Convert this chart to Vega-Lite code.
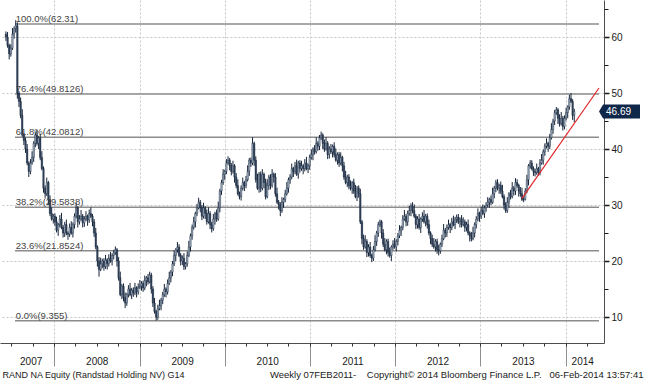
{
"$schema":"https://vega.github.io/schema/vega-lite/v6.json",
"width":604,"height":343,
"autosize":{"type":"none"},
"padding":{"left":0,"top":0,"right":41,"bottom":37},
"background":"#ffffff",
"config":{"view":{"stroke":null},"font":"Liberation Sans","axis":{"labelFont":"Liberation Sans","titleFont":"Liberation Sans","labelColor":"#1a1a1a","titleColor":"#1a1a1a","titleFontWeight":"normal"}},
"datasets":{
"fib":[{"lab":"100.0%(62.31)","v":62.31},{"lab":"76.4%(49.8126)","v":49.8126},{"lab":"61.8%(42.0812)","v":42.0812},{"lab":"38.2%(29.5838)","v":29.5838},{"lab":"23.6%(21.8524)","v":21.8524},{"lab":"0.0%(9.355)","v":9.355}],
"trend":[{"t":"2013-06-28","v":31.2},{"t":"2014-05-24","v":50.9}],
"last":[{"v":46.69}],
"px":[
{"t":"2007-06-08","o":60.5,"h":61.0,"l":59.3,"c":60.0},
{"t":"2007-06-15","o":60.0,"h":60.9,"l":58.1,"c":58.5},
{"t":"2007-06-22","o":58.5,"h":58.8,"l":56.0,"c":57.0},
{"t":"2007-06-29","o":57.0,"h":58.7,"l":56.5,"c":58.0},
{"t":"2007-07-06","o":58.0,"h":61.6,"l":57.7,"c":60.5},
{"t":"2007-07-13","o":60.5,"h":61.9,"l":59.7,"c":61.5},
{"t":"2007-07-20","o":61.5,"h":63.0,"l":60.8,"c":62.0},
{"t":"2007-07-27","o":62.0,"h":62.6,"l":49.0,"c":50.0},
{"t":"2007-08-03","o":50.0,"h":50.3,"l":47.5,"c":48.5},
{"t":"2007-08-10","o":48.5,"h":49.2,"l":45.5,"c":46.0},
{"t":"2007-08-17","o":46.0,"h":47.1,"l":42.2,"c":42.5},
{"t":"2007-08-24","o":42.5,"h":42.9,"l":40.7,"c":41.5},
{"t":"2007-08-31","o":41.5,"h":42.0,"l":39.3,"c":40.0},
{"t":"2007-09-07","o":40.0,"h":40.9,"l":37.1,"c":37.5},
{"t":"2007-09-14","o":37.5,"h":37.8,"l":35.0,"c":36.0},
{"t":"2007-09-21","o":36.0,"h":38.2,"l":35.5,"c":37.5},
{"t":"2007-09-28","o":37.5,"h":39.6,"l":37.2,"c":38.5},
{"t":"2007-10-05","o":38.5,"h":41.4,"l":37.7,"c":41.0},
{"t":"2007-10-12","o":41.0,"h":43.0,"l":40.3,"c":42.5},
{"t":"2007-10-19","o":42.5,"h":43.4,"l":40.6,"c":41.0},
{"t":"2007-10-26","o":41.0,"h":42.3,"l":40.0,"c":42.0},
{"t":"2007-11-02","o":42.0,"h":42.7,"l":38.0,"c":38.5},
{"t":"2007-11-09","o":38.5,"h":39.6,"l":36.2,"c":36.5},
{"t":"2007-11-16","o":36.5,"h":36.9,"l":32.2,"c":33.0},
{"t":"2007-11-23","o":33.0,"h":33.5,"l":31.3,"c":32.0},
{"t":"2007-11-30","o":32.0,"h":34.9,"l":31.6,"c":34.0},
{"t":"2007-12-07","o":34.0,"h":34.3,"l":30.0,"c":31.0},
{"t":"2007-12-14","o":31.0,"h":31.7,"l":28.0,"c":28.5},
{"t":"2007-12-21","o":28.5,"h":29.6,"l":27.2,"c":27.5},
{"t":"2007-12-28","o":27.5,"h":28.4,"l":26.7,"c":28.0},
{"t":"2008-01-04","o":28,"h":28.5,"l":26.3,"c":27},
{"t":"2008-01-11","o":27,"h":27.9,"l":25.1,"c":25.5},
{"t":"2008-01-18","o":25.5,"h":26.8,"l":24.5,"c":26.5},
{"t":"2008-01-25","o":26.5,"h":28.2,"l":26,"c":27.5},
{"t":"2008-02-01","o":27.5,"h":28.6,"l":25.7,"c":26},
{"t":"2008-02-08","o":26,"h":26.4,"l":24.2,"c":25},
{"t":"2008-02-15","o":25,"h":27,"l":24.3,"c":26.5},
{"t":"2008-02-22","o":26.5,"h":27.4,"l":24.6,"c":25},
{"t":"2008-02-29","o":25,"h":25.3,"l":23.8,"c":24.8},
{"t":"2008-03-07","o":24.8,"h":26.7,"l":24.3,"c":26},
{"t":"2008-03-14","o":26,"h":27.1,"l":24.7,"c":25},
{"t":"2008-03-21","o":25,"h":26.9,"l":24.2,"c":26.5},
{"t":"2008-03-28","o":26.5,"h":28.5,"l":25.8,"c":28},
{"t":"2008-04-04","o":28,"h":30.4,"l":27.6,"c":29.5},
{"t":"2008-04-11","o":29.5,"h":29.8,"l":26,"c":27},
{"t":"2008-04-18","o":27,"h":28.2,"l":26.5,"c":27.5},
{"t":"2008-04-25","o":27.5,"h":29.1,"l":27.2,"c":28},
{"t":"2008-05-02","o":28,"h":28.4,"l":26,"c":26.8},
{"t":"2008-05-09","o":26.8,"h":28,"l":26.1,"c":27.5},
{"t":"2008-05-16","o":27.5,"h":28.9,"l":27.1,"c":28},
{"t":"2008-05-23","o":28,"h":28.3,"l":26.3,"c":27.3},
{"t":"2008-05-30","o":27.3,"h":29.2,"l":26.8,"c":28.5},
{"t":"2008-06-06","o":28.5,"h":29.6,"l":27.7,"c":28},
{"t":"2008-06-13","o":28,"h":28.4,"l":26.2,"c":27},
{"t":"2008-06-20","o":27,"h":27.5,"l":24.3,"c":25},
{"t":"2008-06-27","o":25,"h":25.9,"l":22.1,"c":22.5},
{"t":"2008-07-04","o":22.5,"h":22.8,"l":19,"c":20},
{"t":"2008-07-11","o":20,"h":20.7,"l":17.2,"c":18.5},
{"t":"2008-07-18","o":18.5,"h":20.6,"l":18.2,"c":19.5},
{"t":"2008-07-25","o":19.5,"h":20.4,"l":18.7,"c":20},
{"t":"2008-08-01","o":20,"h":20.5,"l":18.3,"c":19},
{"t":"2008-08-08","o":19,"h":21.1,"l":18.6,"c":20.2},
{"t":"2008-08-15","o":20.2,"h":20.5,"l":18.5,"c":19.5},
{"t":"2008-08-22","o":19.5,"h":21.2,"l":19,"c":20.5},
{"t":"2008-08-29","o":20.5,"h":21.6,"l":19.7,"c":20},
{"t":"2008-09-05","o":20,"h":21.4,"l":19.2,"c":21},
{"t":"2008-09-12","o":21,"h":22,"l":20.3,"c":21.5},
{"t":"2008-09-19","o":21.5,"h":22.6,"l":21.1,"c":22},
{"t":"2008-09-26","o":22,"h":22.3,"l":19,"c":20},
{"t":"2008-10-03","o":20,"h":20.7,"l":16.5,"c":17},
{"t":"2008-10-10","o":17,"h":18.1,"l":13.7,"c":14},
{"t":"2008-10-17","o":14,"h":15.9,"l":13.2,"c":15.5},
{"t":"2008-10-24","o":15.5,"h":16,"l":12.8,"c":13.5},
{"t":"2008-10-31","o":13.5,"h":14.4,"l":11.6,"c":12.5},
{"t":"2008-11-07","o":12.5,"h":14.3,"l":12,"c":14},
{"t":"2008-11-14","o":14,"h":15.7,"l":13.5,"c":15},
{"t":"2008-11-21","o":15,"h":16.1,"l":13.7,"c":14},
{"t":"2008-11-28","o":14,"h":15.2,"l":13.2,"c":14.8},
{"t":"2008-12-05","o":14.8,"h":15.3,"l":13.6,"c":14.3},
{"t":"2008-12-12","o":14.3,"h":16.1,"l":13.9,"c":15.2},
{"t":"2008-12-19","o":15.2,"h":15.5,"l":13.5,"c":14.5},
{"t":"2008-12-26","o":14.5,"h":16,"l":14,"c":15.3},
{"t":"2009-01-02","o":15.3,"h":16.6,"l":15,"c":15.5},
{"t":"2009-01-09","o":15.5,"h":16.4,"l":14.7,"c":16},
{"t":"2009-01-16","o":16,"h":16.5,"l":14.5,"c":15.2},
{"t":"2009-01-23","o":15.2,"h":17.4,"l":14.8,"c":16.5},
{"t":"2009-01-30","o":16.5,"h":17.3,"l":15.5,"c":17},
{"t":"2009-02-06","o":17,"h":17.7,"l":15.8,"c":16.3},
{"t":"2009-02-13","o":16.3,"h":18.1,"l":16,"c":17.5},
{"t":"2009-02-20","o":17.5,"h":17.9,"l":14.2,"c":15},
{"t":"2009-02-27","o":15,"h":15.5,"l":11.8,"c":12.5},
{"t":"2009-03-06","o":12.5,"h":13.4,"l":10.6,"c":11},
{"t":"2009-03-13","o":11,"h":11.3,"l":9.36,"c":10},
{"t":"2009-03-20","o":10,"h":12.2,"l":9.5,"c":11.5},
{"t":"2009-03-27","o":11.5,"h":13.1,"l":11.2,"c":12},
{"t":"2009-04-03","o":12,"h":13.4,"l":11.2,"c":13},
{"t":"2009-04-10","o":13,"h":14.5,"l":12.3,"c":14},
{"t":"2009-04-17","o":14,"h":15.9,"l":13.6,"c":15},
{"t":"2009-04-24","o":15,"h":15.3,"l":13.5,"c":14.5},
{"t":"2009-05-01","o":14.5,"h":16.7,"l":14,"c":16},
{"t":"2009-05-08","o":16,"h":18.1,"l":15.7,"c":17},
{"t":"2009-05-15","o":17,"h":18.4,"l":16.2,"c":18},
{"t":"2009-05-22","o":18,"h":20,"l":17.3,"c":19.5},
{"t":"2009-05-29","o":19.5,"h":21.9,"l":19.1,"c":21},
{"t":"2009-06-05","o":21,"h":22.3,"l":20,"c":22},
{"t":"2009-06-12","o":22,"h":23.4,"l":21.5,"c":22.5},
{"t":"2009-06-19","o":22.5,"h":23,"l":20.7,"c":21},
{"t":"2009-06-26","o":21,"h":21.4,"l":19.2,"c":20},
{"t":"2009-07-03","o":20,"h":21,"l":19.3,"c":20.5},
{"t":"2009-07-10","o":20.5,"h":21.4,"l":18.4,"c":19},
{"t":"2009-07-17","o":19,"h":19.8,"l":18.5,"c":19.5},
{"t":"2009-07-24","o":19.5,"h":21.7,"l":19,"c":21},
{"t":"2009-07-31","o":21,"h":23.6,"l":20.7,"c":22.5},
{"t":"2009-08-07","o":22.5,"h":24.9,"l":21.7,"c":24.5},
{"t":"2009-08-14","o":24.5,"h":26.5,"l":23.8,"c":26},
{"t":"2009-08-21","o":26,"h":27.9,"l":25.6,"c":27},
{"t":"2009-08-28","o":27,"h":28.8,"l":26,"c":28.5},
{"t":"2009-09-04","o":28.5,"h":30.2,"l":28,"c":29.5},
{"t":"2009-09-11","o":29.5,"h":31.3,"l":29.2,"c":30.5},
{"t":"2009-09-18","o":30.5,"h":30.9,"l":28.7,"c":29.5},
{"t":"2009-09-25","o":29.5,"h":30,"l":27.3,"c":28},
{"t":"2009-10-02","o":28,"h":30.4,"l":27.6,"c":29.5},
{"t":"2009-10-09","o":29.5,"h":29.8,"l":27.5,"c":28.5},
{"t":"2009-10-16","o":28.5,"h":29.2,"l":26.5,"c":27},
{"t":"2009-10-23","o":27,"h":29.6,"l":26.7,"c":28.5},
{"t":"2009-10-30","o":28.5,"h":28.9,"l":25.7,"c":26.5},
{"t":"2009-11-06","o":26.5,"h":27,"l":25.1,"c":25.8},
{"t":"2009-11-13","o":25.8,"h":28.4,"l":25.4,"c":27.5},
{"t":"2009-11-20","o":27.5,"h":28.8,"l":26.5,"c":28.5},
{"t":"2009-11-27","o":28.5,"h":29.2,"l":27,"c":27.5},
{"t":"2009-12-04","o":27.5,"h":30.6,"l":27.2,"c":29.5},
{"t":"2009-12-11","o":29.5,"h":32.9,"l":28.7,"c":32.5},
{"t":"2009-12-18","o":32.5,"h":34.5,"l":31.8,"c":34},
{"t":"2009-12-25","o":34,"h":36.4,"l":33.6,"c":35.5},
{"t":"2010-01-01","o":35.5,"h":36.3,"l":34.5,"c":36},
{"t":"2010-01-08","o":36,"h":38.2,"l":35.5,"c":37.5},
{"t":"2010-01-15","o":37.5,"h":38.7,"l":37.2,"c":38},
{"t":"2010-01-22","o":38,"h":38.4,"l":36.2,"c":37},
{"t":"2010-01-29","o":37,"h":37.5,"l":35.3,"c":36},
{"t":"2010-02-05","o":36,"h":37.9,"l":35.6,"c":37},
{"t":"2010-02-12","o":37,"h":37.3,"l":34,"c":35},
{"t":"2010-02-19","o":35,"h":35.7,"l":33,"c":33.5},
{"t":"2010-02-26","o":33.5,"h":34.6,"l":31.7,"c":32},
{"t":"2010-03-05","o":32,"h":32.4,"l":31,"c":31.5},
{"t":"2010-03-12","o":31.5,"h":33.5,"l":30.8,"c":33},
{"t":"2010-03-19","o":33,"h":34.9,"l":32.6,"c":34},
{"t":"2010-03-26","o":34,"h":34.3,"l":32.5,"c":33.5},
{"t":"2010-04-02","o":33.5,"h":35.2,"l":33,"c":34.5},
{"t":"2010-04-09","o":34.5,"h":37.1,"l":34.2,"c":36},
{"t":"2010-04-16","o":36,"h":38.4,"l":35.2,"c":38},
{"t":"2010-04-23","o":38,"h":38.5,"l":36.8,"c":37.5},
{"t":"2010-04-30","o":37.5,"h":42.1,"l":37.1,"c":41},
{"t":"2010-05-07","o":41,"h":41.3,"l":37,"c":38},
{"t":"2010-05-14","o":38,"h":38.7,"l":34,"c":34.5},
{"t":"2010-05-21","o":34.5,"h":35.6,"l":32.7,"c":33},
{"t":"2010-05-28","o":33,"h":35.9,"l":32.2,"c":35.5},
{"t":"2010-06-04","o":35.5,"h":36,"l":32.3,"c":33},
{"t":"2010-06-11","o":33,"h":36.4,"l":32.6,"c":35.5},
{"t":"2010-06-18","o":35.5,"h":35.8,"l":33,"c":34},
{"t":"2010-06-25","o":34,"h":34.7,"l":31,"c":31.5},
{"t":"2010-07-02","o":31.5,"h":34.6,"l":31.2,"c":33.5},
{"t":"2010-07-09","o":33.5,"h":35.4,"l":32.7,"c":35},
{"t":"2010-07-16","o":35,"h":35.5,"l":32.8,"c":33.5},
{"t":"2010-07-23","o":33.5,"h":36.4,"l":33.1,"c":35.5},
{"t":"2010-07-30","o":35.5,"h":35.8,"l":34,"c":35},
{"t":"2010-08-06","o":35,"h":35.7,"l":31.5,"c":32},
{"t":"2010-08-13","o":32,"h":33.1,"l":30.2,"c":30.5},
{"t":"2010-08-20","o":30.5,"h":30.9,"l":29.2,"c":30},
{"t":"2010-08-27","o":30,"h":30.5,"l":28,"c":29},
{"t":"2010-09-03","o":29,"h":31.4,"l":28.6,"c":30.5},
{"t":"2010-09-10","o":30.5,"h":31.3,"l":29.5,"c":31},
{"t":"2010-09-17","o":31,"h":32.7,"l":30.5,"c":32},
{"t":"2010-09-24","o":32,"h":34.1,"l":31.7,"c":33},
{"t":"2010-10-01","o":33,"h":34.9,"l":32.2,"c":34.5},
{"t":"2010-10-08","o":34.5,"h":35.5,"l":33.8,"c":35},
{"t":"2010-10-15","o":35,"h":37.4,"l":34.6,"c":36.5},
{"t":"2010-10-22","o":36.5,"h":36.8,"l":35,"c":36},
{"t":"2010-10-29","o":36,"h":37.7,"l":35.5,"c":37},
{"t":"2010-11-05","o":37,"h":38.1,"l":35.2,"c":35.5},
{"t":"2010-11-12","o":35.5,"h":37.9,"l":34.7,"c":37.5},
{"t":"2010-11-19","o":37.5,"h":38,"l":35.8,"c":36.5},
{"t":"2010-11-26","o":36.5,"h":37.9,"l":36.1,"c":37},
{"t":"2010-12-03","o":37,"h":37.3,"l":35.5,"c":36.5},
{"t":"2010-12-10","o":36.5,"h":38.2,"l":36,"c":37.5},
{"t":"2010-12-17","o":37.5,"h":38.6,"l":36.2,"c":36.5},
{"t":"2010-12-24","o":36.5,"h":37.4,"l":35.7,"c":37},
{"t":"2010-12-31","o":37,"h":39,"l":36.3,"c":38.5},
{"t":"2011-01-07","o":38.5,"h":39.9,"l":38.1,"c":39},
{"t":"2011-01-14","o":39,"h":40.3,"l":38,"c":40},
{"t":"2011-01-21","o":40,"h":40.7,"l":39,"c":39.5},
{"t":"2011-01-28","o":39.5,"h":42.1,"l":39.2,"c":41},
{"t":"2011-02-04","o":41,"h":41.4,"l":39.7,"c":40.5},
{"t":"2011-02-11","o":40.5,"h":42.5,"l":39.8,"c":42},
{"t":"2011-02-18","o":42,"h":43.1,"l":41.6,"c":42.5},
{"t":"2011-02-25","o":42.5,"h":42.8,"l":40,"c":41},
{"t":"2011-03-04","o":41,"h":41.7,"l":39.5,"c":40},
{"t":"2011-03-11","o":40,"h":42.1,"l":39.7,"c":41},
{"t":"2011-03-18","o":41,"h":41.4,"l":38.2,"c":39},
{"t":"2011-03-25","o":39,"h":40.5,"l":38.3,"c":40},
{"t":"2011-04-01","o":40,"h":40.9,"l":39.1,"c":39.5},
{"t":"2011-04-08","o":39.5,"h":40.8,"l":38.5,"c":40.5},
{"t":"2011-04-15","o":40.5,"h":41.2,"l":38.5,"c":39},
{"t":"2011-04-22","o":39,"h":40.1,"l":37.7,"c":38},
{"t":"2011-04-29","o":38,"h":39.4,"l":37.2,"c":39},
{"t":"2011-05-06","o":39,"h":39.5,"l":36.8,"c":37.5},
{"t":"2011-05-13","o":37.5,"h":39.4,"l":37.1,"c":38.5},
{"t":"2011-05-20","o":38.5,"h":38.8,"l":36,"c":37},
{"t":"2011-05-27","o":37,"h":37.7,"l":34.5,"c":35},
{"t":"2011-06-03","o":35,"h":36.1,"l":33.7,"c":34},
{"t":"2011-06-10","o":34,"h":35.4,"l":33.2,"c":35},
{"t":"2011-06-17","o":35,"h":35.5,"l":32.8,"c":33.5},
{"t":"2011-06-24","o":33.5,"h":34.4,"l":32.6,"c":33},
{"t":"2011-07-01","o":33,"h":34.3,"l":32,"c":34},
{"t":"2011-07-08","o":34,"h":34.7,"l":32,"c":32.5},
{"t":"2011-07-15","o":32.5,"h":33.6,"l":31.2,"c":31.5},
{"t":"2011-07-22","o":31.5,"h":33.4,"l":30.7,"c":33},
{"t":"2011-07-29","o":33,"h":33.5,"l":31.3,"c":32},
{"t":"2011-08-05","o":32,"h":32.9,"l":26.6,"c":27},
{"t":"2011-08-12","o":27,"h":27.3,"l":23,"c":24},
{"t":"2011-08-19","o":24,"h":24.7,"l":22,"c":22.5},
{"t":"2011-08-26","o":22.5,"h":24.6,"l":22.2,"c":23.5},
{"t":"2011-09-02","o":23.5,"h":23.9,"l":20.7,"c":21.5},
{"t":"2011-09-09","o":21.5,"h":23,"l":20.8,"c":22.5},
{"t":"2011-09-16","o":22.5,"h":23.4,"l":20.6,"c":21},
{"t":"2011-09-23","o":21,"h":21.3,"l":19.8,"c":20.5},
{"t":"2011-09-30","o":20.5,"h":22.7,"l":20,"c":22},
{"t":"2011-10-07","o":22,"h":24.6,"l":21.7,"c":23.5},
{"t":"2011-10-14","o":23.5,"h":25.4,"l":22.7,"c":25},
{"t":"2011-10-21","o":25,"h":27,"l":24.3,"c":26.5},
{"t":"2011-10-28","o":26.5,"h":27.4,"l":26.1,"c":27},
{"t":"2011-11-04","o":27,"h":27.3,"l":24,"c":25},
{"t":"2011-11-11","o":25,"h":25.7,"l":22.5,"c":23},
{"t":"2011-11-18","o":23,"h":24.1,"l":21.7,"c":22},
{"t":"2011-11-25","o":22,"h":23.9,"l":21.2,"c":23.5},
{"t":"2011-12-02","o":23.5,"h":24,"l":20.8,"c":21.5},
{"t":"2011-12-09","o":21.5,"h":22.4,"l":20.6,"c":21},
{"t":"2011-12-16","o":21,"h":22.8,"l":20,"c":22.5},
{"t":"2011-12-23","o":22.5,"h":23.7,"l":22,"c":23},
{"t":"2011-12-30","o":23,"h":24.1,"l":22.2,"c":22.5},
{"t":"2012-01-06","o":22.5,"h":23.9,"l":21.7,"c":23.5},
{"t":"2012-01-13","o":23.5,"h":25,"l":22.8,"c":24.5},
{"t":"2012-01-20","o":24.5,"h":26.4,"l":24.1,"c":25.5},
{"t":"2012-01-27","o":25.5,"h":26.3,"l":24.5,"c":26},
{"t":"2012-02-03","o":26,"h":28.2,"l":25.5,"c":27.5},
{"t":"2012-02-10","o":27.5,"h":29.1,"l":27.2,"c":28},
{"t":"2012-02-17","o":28,"h":28.4,"l":26.2,"c":27},
{"t":"2012-02-24","o":27,"h":29,"l":26.3,"c":28.5},
{"t":"2012-03-02","o":28.5,"h":29.9,"l":28.1,"c":29},
{"t":"2012-03-09","o":29,"h":30.3,"l":28,"c":29.8},
{"t":"2012-03-16","o":29.8,"h":30.5,"l":28.5,"c":29},
{"t":"2012-03-23","o":29,"h":30.1,"l":27.7,"c":28},
{"t":"2012-03-30","o":28,"h":28.4,"l":25.7,"c":26.5},
{"t":"2012-04-06","o":26.5,"h":28,"l":25.8,"c":27.5},
{"t":"2012-04-13","o":27.5,"h":28.4,"l":25.6,"c":26},
{"t":"2012-04-20","o":26,"h":27.8,"l":25,"c":27.5},
{"t":"2012-04-27","o":27.5,"h":28.7,"l":27,"c":28},
{"t":"2012-05-04","o":28,"h":29.1,"l":26.7,"c":27},
{"t":"2012-05-11","o":27,"h":28.4,"l":26.2,"c":28},
{"t":"2012-05-18","o":28,"h":28.5,"l":25.8,"c":26.5},
{"t":"2012-05-25","o":26.5,"h":27.4,"l":24.6,"c":25},
{"t":"2012-06-01","o":25,"h":25.3,"l":23,"c":24},
{"t":"2012-06-08","o":24,"h":24.7,"l":22.5,"c":23},
{"t":"2012-06-15","o":23,"h":24.1,"l":22.2,"c":22.5},
{"t":"2012-06-22","o":22.5,"h":23.9,"l":21.7,"c":23.5},
{"t":"2012-06-29","o":23.5,"h":24,"l":21.3,"c":22},
{"t":"2012-07-06","o":22,"h":22.9,"l":21,"c":21.8},
{"t":"2012-07-13","o":21.8,"h":23.3,"l":21.3,"c":23},
{"t":"2012-07-20","o":23,"h":24.7,"l":22.5,"c":24},
{"t":"2012-07-27","o":24,"h":26.6,"l":23.7,"c":25.5},
{"t":"2012-08-03","o":25.5,"h":25.9,"l":24.2,"c":25},
{"t":"2012-08-10","o":25,"h":26.5,"l":24.3,"c":26},
{"t":"2012-08-17","o":26,"h":27.4,"l":25.6,"c":26.5},
{"t":"2012-08-24","o":26.5,"h":26.8,"l":25,"c":26},
{"t":"2012-08-31","o":26,"h":27.7,"l":25.5,"c":27},
{"t":"2012-09-07","o":27,"h":28.1,"l":26.2,"c":26.5},
{"t":"2012-09-14","o":26.5,"h":27.9,"l":25.7,"c":27.5},
{"t":"2012-09-21","o":27.5,"h":28.3,"l":26.8,"c":27.8},
{"t":"2012-09-28","o":27.8,"h":28.4,"l":26.6,"c":27},
{"t":"2012-10-05","o":27,"h":27.8,"l":26,"c":27.5},
{"t":"2012-10-12","o":27.5,"h":28.2,"l":26,"c":26.5},
{"t":"2012-10-19","o":26.5,"h":27.8,"l":26.2,"c":27},
{"t":"2012-10-26","o":27,"h":27.4,"l":25.2,"c":26},
{"t":"2012-11-02","o":26,"h":27,"l":25.3,"c":26.5},
{"t":"2012-11-09","o":26.5,"h":27.4,"l":24.6,"c":25},
{"t":"2012-11-16","o":25,"h":25.3,"l":23.5,"c":24.5},
{"t":"2012-11-23","o":24.5,"h":25.2,"l":23.5,"c":24},
{"t":"2012-11-30","o":24,"h":26.1,"l":23.7,"c":25},
{"t":"2012-12-07","o":25,"h":26.9,"l":24.2,"c":26.5},
{"t":"2012-12-14","o":26.5,"h":28,"l":25.8,"c":27.5},
{"t":"2012-12-21","o":27.5,"h":29.4,"l":27.1,"c":28.5},
{"t":"2012-12-28","o":28.5,"h":28.8,"l":27,"c":28},
{"t":"2013-01-04","o":28,"h":29.7,"l":27.5,"c":29},
{"t":"2013-01-11","o":29,"h":30.1,"l":28.2,"c":28.5},
{"t":"2013-01-18","o":28.5,"h":29.9,"l":27.7,"c":29.5},
{"t":"2013-01-25","o":29.5,"h":30.5,"l":28.8,"c":30},
{"t":"2013-02-01","o":30,"h":31.4,"l":29.6,"c":30.5},
{"t":"2013-02-08","o":30.5,"h":31.3,"l":29.5,"c":31},
{"t":"2013-02-15","o":31,"h":31.7,"l":30,"c":30.5},
{"t":"2013-02-22","o":30.5,"h":33.1,"l":30.2,"c":32},
{"t":"2013-03-01","o":32,"h":33.4,"l":31.2,"c":33},
{"t":"2013-03-08","o":33,"h":34.5,"l":32.3,"c":34},
{"t":"2013-03-15","o":34,"h":34.6,"l":32.6,"c":33},
{"t":"2013-03-22","o":33,"h":33.8,"l":32,"c":33.5},
{"t":"2013-03-29","o":33.5,"h":34.2,"l":32,"c":32.5},
{"t":"2013-04-05","o":32.5,"h":33.6,"l":31.2,"c":31.5},
{"t":"2013-04-12","o":31.5,"h":31.9,"l":29.2,"c":30},
{"t":"2013-04-19","o":30,"h":30.5,"l":28.6,"c":29},
{"t":"2013-04-26","o":29,"h":31.4,"l":28.6,"c":30.5},
{"t":"2013-05-03","o":30.5,"h":32.3,"l":29.5,"c":32},
{"t":"2013-05-10","o":32,"h":32.7,"l":31,"c":31.5},
{"t":"2013-05-17","o":31.5,"h":34.1,"l":31.2,"c":33},
{"t":"2013-05-24","o":33,"h":33.4,"l":31.7,"c":32.5},
{"t":"2013-05-31","o":32.5,"h":34.8,"l":31.8,"c":34},
{"t":"2013-06-07","o":34,"h":34.6,"l":33.1,"c":33.5},
{"t":"2013-06-14","o":33.5,"h":33.8,"l":31.5,"c":32.5},
{"t":"2013-06-21","o":32.5,"h":33.2,"l":31.5,"c":32},
{"t":"2013-06-28","o":32,"h":33.1,"l":30.7,"c":31},
{"t":"2013-07-05","o":31,"h":31.4,"l":30.5,"c":31},
{"t":"2013-07-12","o":31,"h":33,"l":30.8,"c":32.5},
{"t":"2013-07-19","o":32.5,"h":35.4,"l":32.1,"c":34.5},
{"t":"2013-07-26","o":34.5,"h":37.3,"l":33.5,"c":37},
{"t":"2013-08-02","o":37,"h":38,"l":36.5,"c":37.5},
{"t":"2013-08-09","o":37.5,"h":38,"l":36.2,"c":36.5},
{"t":"2013-08-16","o":36.5,"h":36.9,"l":35.2,"c":36},
{"t":"2013-08-23","o":36,"h":36.5,"l":35.1,"c":35.8},
{"t":"2013-08-30","o":35.8,"h":37.4,"l":35.4,"c":36.5},
{"t":"2013-09-06","o":36.5,"h":36.8,"l":35.2,"c":35.8},
{"t":"2013-09-13","o":35.8,"h":38.2,"l":35.3,"c":37.5},
{"t":"2013-09-20","o":37.5,"h":39.1,"l":37.2,"c":38},
{"t":"2013-09-27","o":38,"h":39.9,"l":37.2,"c":39.5},
{"t":"2013-10-04","o":39.5,"h":41,"l":38.8,"c":40.5},
{"t":"2013-10-11","o":40.5,"h":41.9,"l":40.1,"c":41},
{"t":"2013-10-18","o":41,"h":41.3,"l":39.5,"c":40.5},
{"t":"2013-10-25","o":40.5,"h":42.7,"l":40,"c":42},
{"t":"2013-11-01","o":42,"h":44.6,"l":41.7,"c":43.5},
{"t":"2013-11-08","o":43.5,"h":45.4,"l":42.7,"c":45},
{"t":"2013-11-15","o":45,"h":47,"l":44.3,"c":46.5},
{"t":"2013-11-22","o":46.5,"h":47.5,"l":46.1,"c":47},
{"t":"2013-11-29","o":47,"h":47.3,"l":44.5,"c":45.5},
{"t":"2013-12-06","o":45.5,"h":46.2,"l":44,"c":44.5},
{"t":"2013-12-13","o":44.5,"h":46.6,"l":44.2,"c":45.5},
{"t":"2013-12-20","o":45.5,"h":45.9,"l":43.3,"c":44},
{"t":"2013-12-27","o":44,"h":46,"l":43.5,"c":45.5},
{"t":"2014-01-03","o":45.5,"h":47.4,"l":45.1,"c":46.5},
{"t":"2014-01-10","o":46.5,"h":47.8,"l":45.5,"c":47.5},
{"t":"2014-01-17","o":47.5,"h":49.7,"l":47,"c":49},
{"t":"2014-01-24","o":49,"h":50,"l":48.2,"c":48.5},
{"t":"2014-01-31","o":48.5,"h":48.9,"l":45.2,"c":46},
{"t":"2014-02-07","o":46,"h":47.2,"l":44.8,"c":46.69}
]},
"layer":[
{"data":{"name":"fib"},
 "mark":{"type":"rule","color":"#8c8c8c","strokeWidth":1.5},
 "encoding":{
  "x":{"datum":{"year":2007,"month":7,"date":17,"utc":true},"type":"temporal","scale":{"type":"utc"},"axis":null},
  "x2":{"datum":{"year":2014,"month":5,"date":24,"utc":true}},
  "y":{"field":"v","type":"quantitative","axis":null}}},
{"data":{"name":"px"},
 "mark":{"type":"rule","color":"#15243a","strokeWidth":1},
 "encoding":{
  "x":{"field":"t","type":"temporal",
       "scale":{"type":"utc","domain":[{"year":2007,"month":6,"date":4,"utc":true},{"year":2014,"month":5,"date":24,"utc":true}]},
       "axis":{"orient":"bottom","values":[{"year":2008,"month":1,"date":1,"utc":true},{"year":2009,"month":1,"date":1,"utc":true},{"year":2010,"month":1,"date":1,"utc":true},{"year":2011,"month":1,"date":1,"utc":true},{"year":2012,"month":1,"date":1,"utc":true},{"year":2013,"month":1,"date":1,"utc":true},{"year":2014,"month":1,"date":1,"utc":true}],
               "labels":false,"ticks":true,"tickSize":23,"tickColor":"#8f8f8f","tickWidth":1,
               "grid":true,"gridColor":"#c6c6c6","gridDash":[2,2],"gridWidth":1,
               "domain":true,"domainColor":"#4d4d4d","domainWidth":1,"title":null}},
  "y":{"field":"l","type":"quantitative",
       "scale":{"domain":[5.36,66.61],"nice":false,"zero":false},
       "axis":{"orient":"right","values":[10,20,30,40,50,60],"tickSize":5,"tickWidth":1.5,"tickColor":"#1a1a1a",
               "labelPadding":2,"labelFontSize":10,"labelBaseline":"middle",
               "grid":true,"gridColor":"#c6c6c6","gridDash":[2,2],
               "domain":true,"domainColor":"#4d4d4d","title":null}},
  "y2":{"field":"h"}}},
{"data":{"name":"px"},
 "mark":{"type":"bar","size":1.5,"stroke":"#15243a","strokeWidth":0.4},
 "encoding":{
  "x":{"field":"t","type":"temporal","scale":{"type":"utc"},
       "axis":{"orient":"bottom","tickCount":{"interval":"month","step":3},"labels":false,"ticks":true,"tickSize":3,"tickColor":"#333333",
               "grid":false,"domain":false,
               "title":"RAND NA Equity (Randstad Holding NV) G14","titleX":2,"titleY":31,"titleAlign":"left","titleBaseline":"middle","titleFontSize":9,"titleAngle":0}},
  "y":{"field":"o","type":"quantitative",
       "axis":{"orient":"right","values":[15,25,35,45,55,65],"tickSize":4,"tickColor":"#1a1a1a","labels":false,"grid":false,"domain":false,"title":null}},
  "y2":{"field":"c"},
  "color":{"condition":{"test":"datum.c >= datum.o","value":"#a3b2c3"},"value":"#33445c"}}},
{"data":{"name":"fib"},
 "mark":{"type":"text","align":"left","baseline":"alphabetic","dy":-2,"color":"#444444","fontSize":9.5,"font":"Liberation Sans"},
 "encoding":{
  "x":{"datum":{"year":2007,"month":7,"date":20,"utc":true},"type":"temporal","scale":{"type":"utc"},"axis":null},
  "y":{"field":"v","type":"quantitative","axis":null},
  "text":{"field":"lab"}}},
{"data":{"name":"trend"},
 "mark":{"type":"line","color":"#e3262b","strokeWidth":1.2},
 "encoding":{
  "x":{"field":"t","type":"temporal","scale":{"type":"utc"},
       "axis":{"orient":"bottom","values":[{"year":2007,"month":9,"date":22,"utc":true},{"year":2008,"month":7,"date":1,"utc":true},{"year":2009,"month":7,"date":2,"utc":true},{"year":2010,"month":7,"date":2,"utc":true},{"year":2011,"month":7,"date":2,"utc":true},{"year":2012,"month":7,"date":1,"utc":true},{"year":2013,"month":7,"date":2,"utc":true},{"year":2014,"month":3,"date":13,"utc":true}],
               "format":"%Y","labels":true,"ticks":false,"tickSize":0,"domain":false,"grid":false,
               "labelPadding":13,"labelFontSize":10,"labelAlign":"center","labelBaseline":"top","labelFlush":false,"labelOverlap":false,"labelBound":false,
               "title":"Weekly 07FEB2011-\u00a0\u00a0\u00a0 Copyright© 2014 Bloomberg Finance L.P.\u00a0\u00a0 06-Feb-2014 13:57:41",
               "titleX":643,"titleY":31,"titleAlign":"right","titleBaseline":"middle","titleFontSize":9.5,"titleAngle":0}},
  "y":{"field":"v","type":"quantitative","axis":null}}},
{"data":{"name":"last"},
 "mark":{"type":"point","shape":"M0,0L0.2,-0.34L2,-0.34L2,0.34L0.2,0.34Z","size":1681,"filled":true,"color":"#0f2748","opacity":1,"strokeWidth":0},
 "encoding":{
  "x":{"datum":{"year":2014,"month":5,"date":24,"utc":true},"type":"temporal","scale":{"type":"utc"},"axis":null},
  "y":{"field":"v","type":"quantitative","axis":null}}},
{"data":{"name":"last"},
 "mark":{"type":"text","align":"left","baseline":"middle","dx":7,"color":"#ffffff","fontSize":10,"font":"Liberation Sans"},
 "encoding":{
  "x":{"datum":{"year":2014,"month":5,"date":24,"utc":true},"type":"temporal","scale":{"type":"utc"},"axis":null},
  "y":{"field":"v","type":"quantitative","axis":null},
  "text":{"field":"v","type":"quantitative","format":".2f"}}}
],
"resolve":{"axis":{"x":"independent","y":"independent"}}
}
